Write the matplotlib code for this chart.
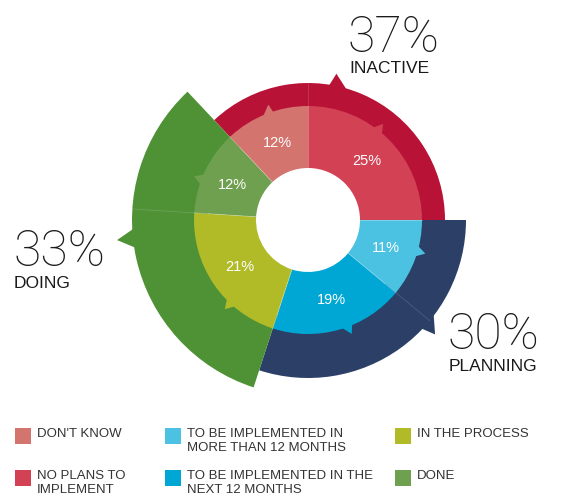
import matplotlib.pyplot as plt
import matplotlib.patches as mpatches
import numpy as np

# Inner ring: answers, clockwise from 12 o'clock
inner_labels = ["NO PLANS TO\nIMPLEMENT", "TO BE IMPLEMENTED IN\nMORE THAN 12 MONTHS",
                "TO BE IMPLEMENTED IN THE\nNEXT 12 MONTHS", "IN THE PROCESS", "DONE", "DON'T KNOW"]
inner_values = [25, 11, 19, 21, 12, 12]
inner_colors = ["#d34155", "#4bc2e1", "#00a7d5", "#b0bb27", "#6ea04f", "#d3746e"]

# Outer ring: groups (inactive starts at the "don't know" slice)
group_names = ["INACTIVE", "PLANNING", "DOING"]
group_values = [37, 30, 33]
group_colors = ["#b81337", "#2c3f66", "#4f9236"]
group_radius = [137, 158, 176]

# legend order as in the picture (column by column)
legend_order = [5, 0, 1, 2, 3, 4]

W, H = 568, 497
fig = plt.figure(figsize=(W / 100, H / 100), dpi=100)
ax = fig.add_axes([0, 0, 1, 1])
ax.set_xlim(0, W)
ax.set_ylim(0, H)
ax.set_aspect('equal')
ax.axis('off')

cx, cy = 308, 277
r_hole, r_in = 52, 114
big_font = dict(family='Roboto', weight='light')


def tail(r, ang, half_w, h, skew, color):
    # little triangular pointer sticking out of a ring
    a1, a2 = np.radians(ang - half_w), np.radians(ang + half_w)
    at = np.radians(ang + skew)
    pts = [(cx + (r - 3) * np.cos(a1), cy + (r - 3) * np.sin(a1)),
           (cx + (r + h) * np.cos(at), cy + (r + h) * np.sin(at)),
           (cx + (r - 3) * np.cos(a2), cy + (r - 3) * np.sin(a2))]
    ax.add_patch(mpatches.Polygon(pts, closed=True, color=color, lw=0))


# outer ring
start = 90 + inner_values[-1] * 3.6
outer_tails = [(77, 4.5, 12, 2), (-40, 4, 13, -2), (186, 3.5, 16, 0)]
for i, v in enumerate(group_values):
    end = start - v * 3.6
    ax.add_patch(mpatches.Wedge((cx, cy), group_radius[i], end, start,
                                width=group_radius[i] - 100, color=group_colors[i], lw=0))
    ta, hw, h, sk = outer_tails[i]
    tail(group_radius[i], ta, hw, h, sk, group_colors[i])
    start = end

# faint seams inside the outer ring (at the inner slice borders)
for a, r in [(90, 137), (-39.6, 158), (176.4, 176)]:
    t = np.radians(a)
    ax.plot([cx + r_in * np.cos(t), cx + r * np.cos(t)],
            [cy + r_in * np.sin(t), cy + r * np.sin(t)], color='white', alpha=0.15, lw=0.6)

# inner ring
start = 90
inner_tails = [(52, 3.5, 8, 0), (-16, 3.5, 8, 0), (-70, 3.5, 8, 1), (-133, 3.5, 8, 0),
               (159, 3.5, 8, 0), (111, 3.5, 8, -2)]
for i, v in enumerate(inner_values):
    end = start - v * 3.6
    ax.add_patch(mpatches.Wedge((cx, cy), r_in, end, start, width=r_in - r_hole,
                                color=inner_colors[i], lw=0))
    ta, hw, h, sk = inner_tails[i]
    tail(r_in, ta, hw, h, sk, inner_colors[i])
    mid = np.radians((start + end) / 2)
    ax.text(cx + 83 * np.cos(mid), cy + 83 * np.sin(mid), f"{v}%", color='white',
            fontsize=10.5, ha='center', va='center', family='Liberation Sans')
    t = np.radians(start)
    ax.plot([cx + r_hole * np.cos(t), cx + r_in * np.cos(t)],
            [cy + r_hole * np.sin(t), cy + r_in * np.sin(t)], color='white', alpha=0.3, lw=0.6)
    start = end

# group headings
group_pos = [(348, 445, 424), (448, 148, 126), (13, 231, 209)]
for i, (x, y1, y2) in enumerate(group_pos):
    ax.text(x, y1, f"{group_values[i]}%", fontsize=36, color='#1a1a1a', ha='left',
            va='baseline', **big_font)
    ax.text(x + 1, y2, group_names[i], fontsize=12.5, color='#1a1a1a', ha='left',
            va='baseline', family='Liberation Sans')

# legend
col_x = [15, 165, 395]
row_y = [53, 11]
for k, idx in enumerate(legend_order):
    x = col_x[k // 2]
    y = row_y[k % 2]
    ax.add_patch(mpatches.Rectangle((x, y), 16, 16, color=inner_colors[idx], lw=0))
    ax.text(x + 22, y + 16, inner_labels[idx], fontsize=9.5, color='#333333', ha='left',
            va='top', linespacing=1.25, family='Liberation Sans')

fig.savefig('out.png', dpi=100)
